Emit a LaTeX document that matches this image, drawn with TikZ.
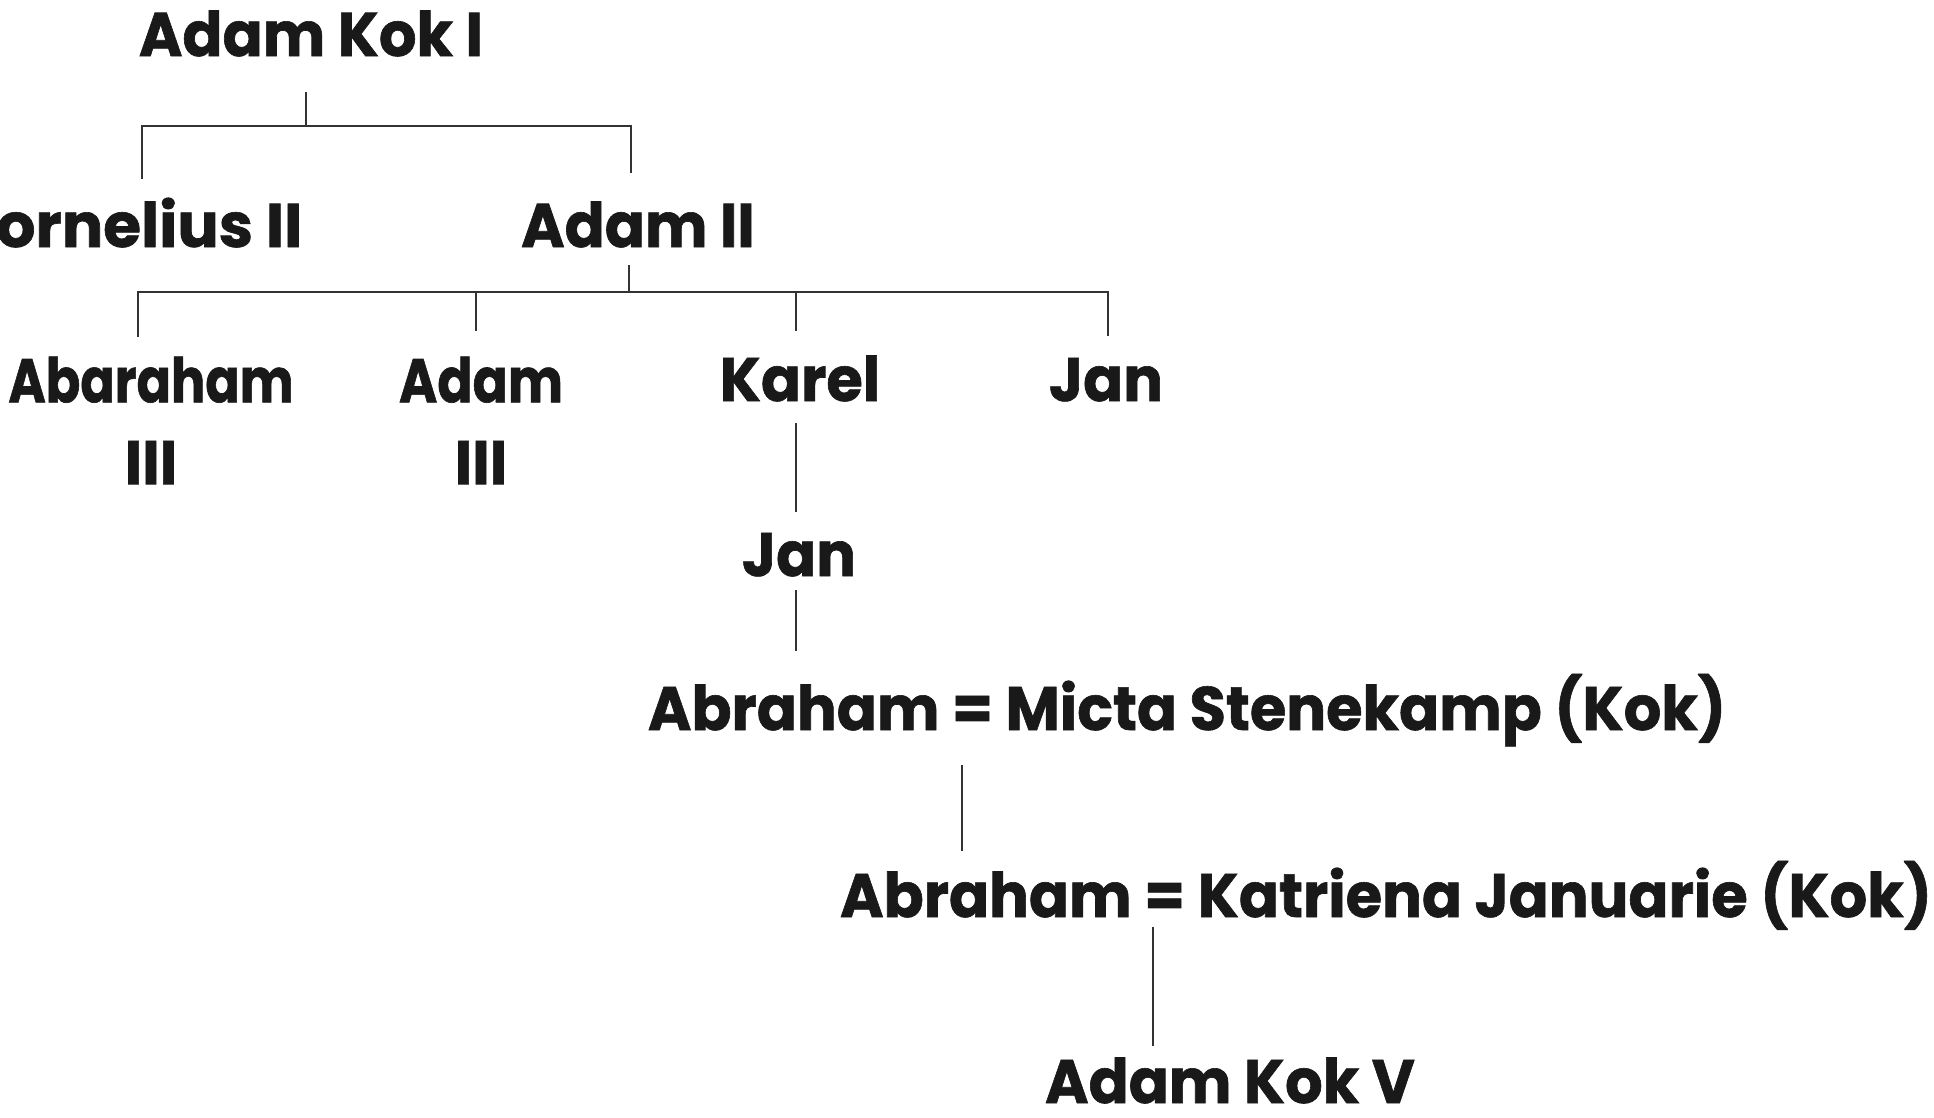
\documentclass[tikz,border=0pt]{standalone}
\usepackage{fontspec}
\setmainfont{Poppins}[UprightFont=* Bold, FakeStretch=0.96, FakeBold=1]
\usetikzlibrary{calc}
\tikzset{
  person/.style={inner sep=0pt, anchor=base, font=\fontsize{17.5}{23.3}\selectfont, text=black!90},
  link/.style={line width=0.6pt, draw=black!80}
}
% narrower setting for a few long names
\newcommand{\narrowname}[2]{\scalebox{#1}[1]{#2}}
\begin{document}
\begin{tikzpicture}[x=0.01cm, y=-0.01cm]
\useasboundingbox (0,0) rectangle (1934,1117);
\clip (0,0) rectangle (1934,1117);

% names
\node[person] (a1) at (311,56) {Adam Kok I};
\node[person, anchor=base east] (corn) at (303,247) {\narrowname{1.04}{Cornelius II}};
\node[person] (a2) at (638,247) {Adam II};
\node[person, align=center, anchor=north] (ab3) at (151,356) {\narrowname{0.86}{Abaraham}\\III};
\node[person, align=center, anchor=north] (ad3) at (481,356) {\narrowname{0.88}{Adam}\\III};
\node[person] (karel) at (800,401) {Karel};
\node[person] (jan1) at (1106,401) {Jan};
\node[person] (jan2) at (799,576) {Jan};
\node[person] (m1) at (1187,730) {Abraham = Micta Stenekamp (Kok)};
\node[person] (m2) at (1386,917) {Abraham = Katriena Januarie (Kok)};
\node[person] (a5) at (1230,1103) {Adam Kok V};

% bar junctions
\coordinate (b1) at (306,126);
\coordinate (b2) at (629,292);

% Adam Kok I and his sons
\draw[link] (306,92) -- (b1);
\draw[link] (142,179) |- (b1) -| (631,173);

% Adam II and his sons
\draw[link] (629,265) -- (b2);
\draw[link] (138,337) |- (1108,292) -- (1108,336);
\draw[link] (476,292) -- (476,331);
\draw[link] (796,292) -- (796,331);

% descent from Karel
\draw[link] (796,423) -- (796,512);
\draw[link] (796,590) -- (796,651);
\draw[link] (962,765) -- (962,851);
\draw[link] (1153,927) -- (1153,1046);
\end{tikzpicture}
\end{document}
